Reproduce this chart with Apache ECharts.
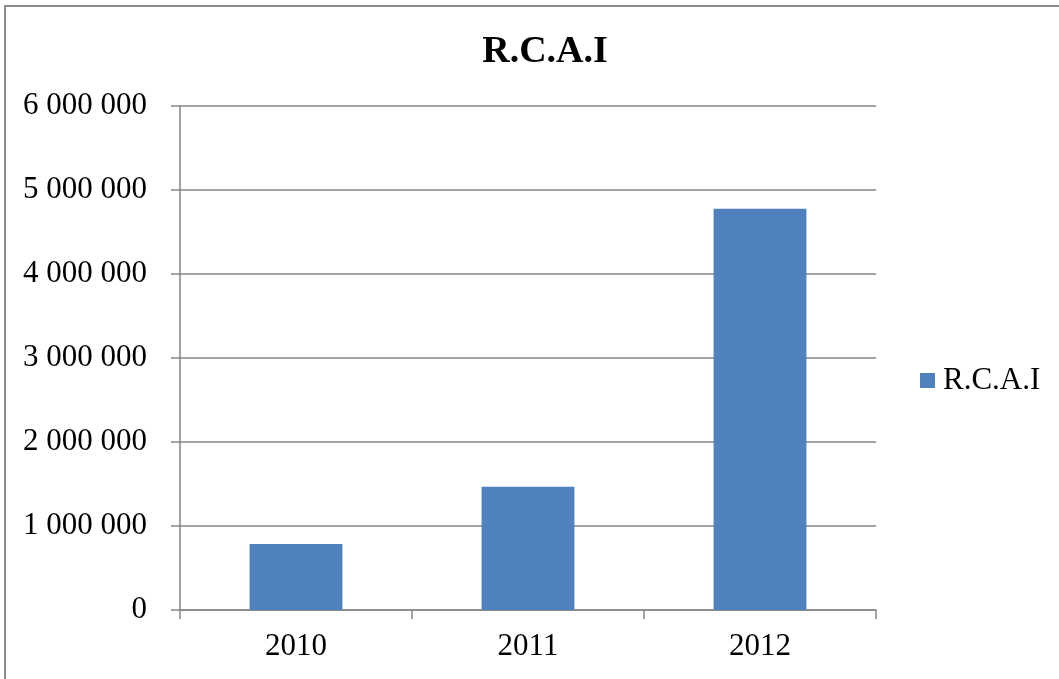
<!DOCTYPE html>
<html>
<head>
<meta charset="utf-8">
<title>R.C.A.I</title>
<script src="https://cdn.jsdelivr.net/npm/echarts@6/dist/echarts.min.js"></script>
<style>
  html, body { margin: 0; padding: 0; background: #fff; }
  #chart { width: 1059px; height: 679px; }
</style>
</head>
<body>
<div id="chart"></div>
<script>
// Yearly R.C.A.I totals
const years = ['2010', '2011', '2012'];
const rcaiValues = [786000, 1468000, 4777000];
const seriesName = 'R.C.A.I';

// Thousands separated by a space: 6 000 000
function spaced(v) {
  return String(v).replace(/\B(?=(\d{3})+(?!\d))/g, ' ');
}

const FONT = '"Liberation Serif", "Times New Roman", serif';
const GRAY = '#868686';

const chart = echarts.init(document.getElementById('chart'), null, { renderer: 'canvas' });

chart.setOption({
  animation: false,
  backgroundColor: '#ffffff',
  title: {
    text: 'R.C.A.I',
    left: 540,
    textAlign: 'center',
    top: 28,
    textStyle: { fontFamily: FONT, fontWeight: 'bold', fontSize: 38, color: '#000' }
  },
  graphic: [{
    type: 'rect',
    shape: { x: 5, y: 6, width: 1200, height: 800 },
    style: { fill: 'none', stroke: '#8c8c8c', lineWidth: 2 },
    silent: true
  }],
  legend: {
    orient: 'vertical',
    left: 915,
    top: 360,
    itemWidth: 15,
    itemHeight: 15,
    itemGap: 8,
    icon: 'rect',
    textStyle: { fontFamily: FONT, fontSize: 31, color: '#000', padding: [0, 0, 0, 3] },
    data: [seriesName]
  },
  grid: { left: 180, right: 183, top: 106, bottom: 69, containLabel: false },
  xAxis: {
    type: 'category',
    data: years,
    boundaryGap: true,
    axisLine: { show: true, lineStyle: { color: GRAY, width: 1.5 } },
    axisTick: { show: true, length: 9, lineStyle: { color: GRAY, width: 1.5 } },
    axisLabel: { fontFamily: FONT, fontSize: 31, color: '#000', margin: 21 }
  },
  yAxis: {
    type: 'value',
    min: 0,
    max: 6000000,
    interval: 1000000,
    axisLine: { show: true, lineStyle: { color: GRAY, width: 1.5 } },
    axisTick: { show: true, length: 9, lineStyle: { color: GRAY, width: 1.5 } },
    splitLine: { show: true, lineStyle: { color: GRAY, width: 1.5 } },
    axisLabel: { fontFamily: FONT, fontSize: 31, color: '#000', margin: 33, formatter: spaced }
  },
  series: [{
    name: seriesName,
    type: 'bar',
    data: rcaiValues,
    barCategoryGap: '60%',
    itemStyle: { color: '#4F81BD' }
  }]
});
</script>
</body>
</html>
